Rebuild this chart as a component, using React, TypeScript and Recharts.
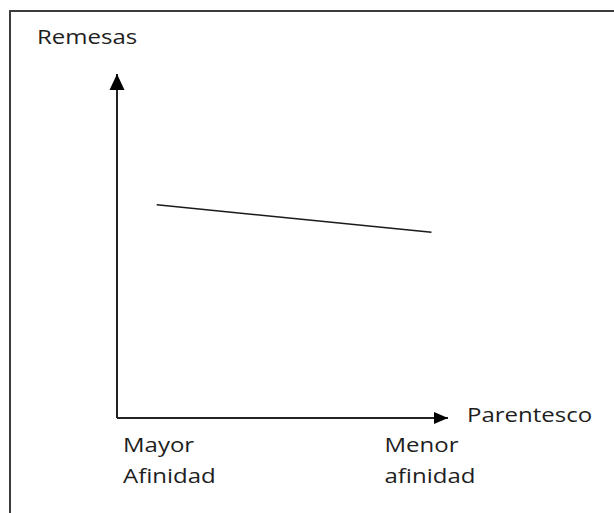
import { LineChart, Line, XAxis, YAxis } from "recharts";

// parentesco (0 = mayor afinidad, 100 = menor afinidad) vs remesas
const parentesco = [12, 95];
const remesas = [62, 54];
const xTicks = [0, 79];
const xTickLabels = [
  ["Mayor", "Afinidad"],
  ["Menor", "afinidad"],
];

const data = parentesco.map((p, i) => ({ parentesco: p, remesas: remesas[i] }));

const FONT = "'Open Sans', 'DejaVu Sans', sans-serif";
const TEXT = "#1e1e1e";

function StretchText({ x, y, children }: { x: number; y: number; children: string }) {
  return (
    <text
      transform={`translate(${x},${y}) scale(1.2,1)`}
      fontFamily={FONT}
      fontSize={20}
      fill={TEXT}
    >
      {children}
    </text>
  );
}

function TwoLineTick(props: any) {
  const { x, y, index } = props;
  const lines = xTickLabels[index] || [];
  return (
    <g>
      <StretchText x={x + 6} y={y + 34}>{lines[0]}</StretchText>
      <StretchText x={x + 6} y={y + 65}>{lines[1]}</StretchText>
    </g>
  );
}

function Label({ left, top, text }: { left: number; top: number; text: string }) {
  return (
    <span
      style={{
        position: "absolute",
        left,
        top,
        fontFamily: FONT,
        fontSize: 20,
        lineHeight: "20px",
        color: TEXT,
        transform: "scaleX(1.2)",
        transformOrigin: "left top",
        whiteSpace: "nowrap",
      }}
    >
      {text}
    </span>
  );
}

export default function App() {
  return (
    <div style={{ position: "absolute", left: 0, top: 0, width: 614, height: 513, background: "#fff", overflow: "hidden" }}>
      <svg width={0} height={0} style={{ position: "absolute" }}>
        <defs>
          <marker id="arrowY" viewBox="0 0 16 16" markerWidth={16} markerHeight={16} refX={16} refY={8} orient="auto-start-reverse" markerUnits="userSpaceOnUse">
            <path d="M0,0.5 L16,8 L0,15.5 Z" fill="#000" />
          </marker>
          <marker id="arrowX" viewBox="0 0 14 12" markerWidth={14} markerHeight={12} refX={14} refY={6} orient="auto" markerUnits="userSpaceOnUse">
            <path d="M0,0 L14,6 L0,12 Z" fill="#000" />
          </marker>
        </defs>
      </svg>
      <div
        style={{
          position: "absolute",
          left: 9,
          top: 10,
          width: 620,
          height: 520,
          borderTop: "2px solid #3c3c3c",
          borderLeft: "2px solid #3c3c3c",
        }}
      />
      <Label left={37} top={27} text="Remesas" />
      <Label left={467} top={405} text="Parentesco" />
      <div style={{ position: "absolute", left: 0, top: 0 }}>
        <LineChart width={614} height={513} data={data} margin={{ top: 74, right: 166, bottom: 0, left: 116 }}>
          <XAxis
            dataKey="parentesco"
            type="number"
            domain={[0, 100]}
            ticks={xTicks}
            height={95}
            tickSize={0}
            tickMargin={0}
            tickLine={false}
            axisLine={{ stroke: "#222", strokeWidth: 2, markerEnd: "url(#arrowX)" }}
            tick={<TwoLineTick />}
          />
          <YAxis
            type="number"
            domain={[0, 100]}
            width={1}
            tick={false}
            tickLine={false}
            axisLine={{ stroke: "#222", strokeWidth: 2, markerStart: "url(#arrowY)" }}
          />
          <Line
            type="linear"
            dataKey="remesas"
            stroke="#1a1a1a"
            strokeWidth={1.5}
            dot={false}
            isAnimationActive={false}
          />
        </LineChart>
      </div>
    </div>
  );
}
